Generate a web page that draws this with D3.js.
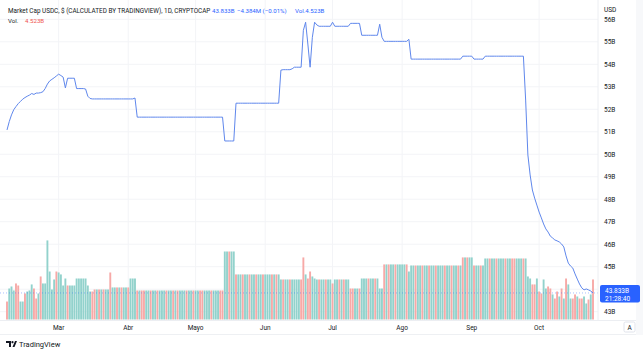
<!DOCTYPE html>
<html>
<head>
<meta charset="utf-8">
<script src="https://cdn.jsdelivr.net/npm/d3@7"></script>
<style>
  body { margin: 0; background: #fff; }
  svg { display: block; font-family: Roboto, "Open Sans", sans-serif; }
  .lbl { fill: #131722; font-size: 6.5px; }
  .hdr { font-size: 6.1px; }
  .ttl { font-size: 6.35px; }
</style>
</head>
<body>
<svg id="main" width="643" height="354"></svg>
<script>
// daily closes, market cap in billions USD, from 2022-02-06
const price = [
  51.08, 51.45, 51.75, 51.98, 52.12, 52.25, 52.35, 52.45, 52.52, 52.58,
  52.63, 52.70, 52.66, 52.72, 52.72, 52.74, 52.78, 52.92, 53.12, 53.26,
  53.33, 53.40, 53.48, 53.56, 53.50, 53.43, 52.95, 53.38, 53.38, 53.38,
  53.38, 52.92, 52.92, 52.92, 52.92, 52.90, 52.58, 52.48, 52.46, 52.46,
  52.46, 52.46, 52.46, 52.46, 52.46, 52.46, 52.46, 52.46, 52.46, 52.46,
  52.46, 52.46, 52.46, 52.46, 52.46, 52.46, 52.46, 52.50, 51.65, 51.65,
  51.65, 51.65, 51.65, 51.65, 51.65, 51.65, 51.65, 51.65, 51.65, 51.65,
  51.65, 51.65, 51.65, 51.65, 51.65, 51.65, 51.65, 51.65, 51.65, 51.65,
  51.65, 51.65, 51.65, 51.65, 51.65, 51.65, 51.65, 51.65, 51.65, 51.65,
  51.65, 51.65, 51.65, 51.65, 51.65, 51.65, 51.65, 50.59, 50.59, 50.59,
  50.59, 50.59, 52.27, 52.27, 52.27, 52.27, 52.27, 52.27, 52.27, 52.27,
  52.27, 52.27, 52.27, 52.27, 52.27, 52.27, 52.27, 52.27, 52.27, 52.27,
  52.27, 52.27, 53.74, 53.76, 53.76, 53.76, 53.76, 53.80, 53.87, 53.87,
  53.87, 53.87, 55.51, 55.87, 54.90, 53.87, 55.20, 55.87, 55.75, 55.69,
  55.69, 55.69, 55.69, 55.69, 55.69, 55.87, 55.69, 55.69, 55.69, 55.69,
  55.69, 55.69, 55.69, 55.82, 55.82, 55.82, 55.82, 55.82, 55.29, 55.29,
  55.29, 55.29, 55.29, 55.29, 55.29, 55.29, 55.78, 55.20, 55.02, 55.02,
  55.02, 55.02, 55.02, 55.02, 55.02, 55.02, 55.02, 55.02, 55.02, 55.11,
  54.23, 54.23, 54.23, 54.23, 54.23, 54.23, 54.23, 54.23, 54.23, 54.23,
  54.23, 54.23, 54.23, 54.23, 54.23, 54.23, 54.23, 54.23, 54.23, 54.23,
  54.23, 54.23, 54.23, 54.36, 54.36, 54.36, 54.36, 54.36, 54.23, 54.23,
  54.23, 54.23, 54.23, 54.36, 54.36, 54.36, 54.36, 54.36, 54.36, 54.36,
  54.36, 54.36, 54.36, 54.36, 54.36, 54.36, 54.36, 54.36, 54.36, 54.36,
  54.36, 52.41, 49.97, 49.08, 48.41, 48.05, 47.74, 47.43, 47.17, 46.90,
  46.68, 46.54, 46.36, 46.28, 46.19, 46.15, 46.10, 46.01, 45.88, 45.48,
  45.16, 45.03, 44.94, 44.68, 44.45, 44.23, 44.06, 43.97, 44.01, 43.97,
  43.92, 43.833
];

// daily volume, billions
const volume = [
  2.03, 3.50, 3.73, 3.28, 4.07, 3.84, 2.03, 2.03, 2.94, 3.16,
  3.28, 3.96, 3.50, 2.37, 2.94, 4.86, 4.07, 4.07, 8.93, 5.42,
  3.39, 4.52, 5.42, 5.31, 5.09, 3.84, 4.63, 3.84, 3.84, 3.84,
  3.84, 4.63, 4.63, 4.63, 4.63, 4.63, 3.84, 3.16, 3.16, 3.39,
  3.39, 3.39, 3.39, 3.39, 3.39, 3.39, 5.31, 3.62, 3.62, 3.62,
  3.62, 3.62, 3.62, 3.62, 3.62, 4.63, 4.63, 4.63, 3.28, 3.28,
  3.28, 3.28, 3.28, 3.28, 3.28, 3.28, 3.28, 3.28, 3.28, 3.28,
  3.28, 3.28, 3.28, 3.28, 3.28, 3.28, 3.28, 3.28, 3.28, 3.28,
  3.28, 3.28, 3.28, 3.28, 3.28, 3.28, 3.28, 3.28, 3.28, 3.28,
  3.28, 3.28, 3.28, 3.28, 3.28, 3.28, 3.28, 7.68, 7.68, 7.68,
  7.68, 7.68, 5.09, 5.09, 5.09, 5.09, 5.09, 5.09, 5.09, 5.09,
  5.09, 5.09, 5.09, 5.09, 5.09, 5.09, 5.09, 5.09, 5.09, 5.09,
  5.09, 5.09, 4.52, 4.52, 4.52, 4.52, 4.52, 4.52, 4.52, 4.52,
  4.52, 4.52, 7.01, 5.09, 4.63, 5.42, 4.86, 4.63, 4.52, 4.52,
  4.52, 4.52, 4.52, 4.52, 4.52, 4.07, 4.52, 4.52, 4.52, 4.52,
  4.52, 4.52, 4.52, 3.50, 3.50, 3.50, 3.50, 3.50, 4.63, 4.63,
  4.63, 4.63, 4.63, 4.63, 4.63, 4.63, 3.50, 3.50, 6.22, 6.22,
  6.22, 6.22, 6.22, 6.22, 6.22, 6.22, 6.22, 6.22, 6.22, 5.42,
  6.10, 6.10, 6.10, 6.10, 6.10, 6.10, 6.10, 6.10, 6.10, 6.10,
  6.10, 6.10, 6.10, 6.10, 6.10, 6.10, 6.10, 6.10, 6.10, 6.10,
  6.10, 6.10, 6.10, 7.01, 7.01, 7.01, 7.01, 7.01, 6.10, 6.10,
  6.10, 6.10, 6.10, 6.89, 6.89, 6.89, 6.89, 6.89, 6.89, 6.89,
  6.89, 6.89, 6.89, 6.89, 6.89, 6.89, 6.89, 6.89, 6.89, 6.89,
  6.89, 6.89, 4.86, 4.63, 3.96, 3.96, 4.63, 3.16, 2.94, 4.52,
  3.50, 3.73, 3.50, 2.83, 2.37, 3.16, 2.60, 3.50, 2.37, 4.63,
  3.96, 2.37, 2.37, 2.83, 2.60, 2.37, 2.37, 2.60, 1.81, 2.26,
  2.83, 4.523
];

// u = up day (green volume), d = down day (red volume)
const direction = [
  'duuudduudu', 'uudduduuuu', 'uuduuuuduu', 'uuuuuuuudd', 'ududuuduud',
  'uduuduuudu', 'dduuduuduu', 'uduududuuu', 'duuduudduu', 'uduuudduud',
  'uuduuduudu', 'uduuduuudu', 'duuduuduuu', 'uddudduuud', 'uuduuduudu',
  'duudduuduu', 'uduuduuudu', 'duuduuuudu', 'uuduuduudu', 'uduuuduudu',
  'udududuudu', 'uduuuduudu', 'uuduudduuu', 'duuudduddu', 'udduddudud',
  'uuddudduud', 'ud'
].join('');

const months = ['Mar', 'Abr', 'Mayo', 'Jun', 'Jul', 'Ago', 'Sep', 'Oct'];
const priceTicks = [56, 55, 54, 53, 52, 51, 50, 49, 48, 47, 46, 45, 44, 43];

const start = new Date(2022, 1, 6);
const days = price.map((p, i) => d3.timeDay.offset(start, i));

const svg = d3.select('svg#main');
const plotRight = 598;

const xScale = d3.scaleTime()
  .domain([days[0], days[days.length - 1]])
  .range([7, 593]);
const step = xScale(days[1]) - xScale(days[0]);

const yScale = d3.scaleLinear().domain([43, 56]).range([311.7, 19.3]);
const yVol = d3.scaleLinear().domain([0, 9]).range([319.5, 239.8]);

const last = price[price.length - 1];

// faint grid
const monthDates = months.map((m, i) => new Date(2022, 2 + i, 1));
svg.append('g')
  .selectAll('line')
  .data(monthDates)
  .join('line')
  .attr('x1', d => xScale(d)).attr('x2', d => xScale(d))
  .attr('y1', 0).attr('y2', 320)
  .attr('stroke', '#f3f4f7');

svg.append('g')
  .selectAll('line')
  .data(priceTicks)
  .join('line')
  .attr('x1', 0).attr('x2', plotRight)
  .attr('y1', d => yScale(d)).attr('y2', d => yScale(d))
  .attr('stroke', '#f3f4f7');

// volume bars
svg.append('g')
  .selectAll('rect')
  .data(volume)
  .join('rect')
  .attr('x', (v, i) => xScale(days[i]) - step * 0.42)
  .attr('y', v => yVol(v))
  .attr('width', step * 0.84)
  .attr('height', v => yVol(0) - yVol(v))
  .attr('fill', (v, i) => direction[i] === 'd' ? '#f7a9a7' : '#92d2cc');

// last price dotted line
svg.append('line')
  .attr('x1', 0).attr('x2', plotRight)
  .attr('y1', yScale(last)).attr('y2', yScale(last))
  .attr('stroke', '#2962ff')
  .attr('stroke-opacity', 0.4)
  .attr('stroke-dasharray', '1,2');

// price line
const line = d3.line()
  .x((p, i) => xScale(days[i]))
  .y(p => yScale(p));

svg.append('path')
  .datum(price)
  .attr('d', line)
  .attr('fill', 'none')
  .attr('stroke', '#5f87ec')
  .attr('stroke-width', 1);

// borders
svg.append('line')
  .attr('x1', plotRight).attr('x2', plotRight)
  .attr('y1', 0).attr('y2', 321)
  .attr('stroke', '#eceef2');
svg.append('line')
  .attr('x1', 0).attr('x2', 643)
  .attr('y1', 320.5).attr('y2', 320.5)
  .attr('stroke', '#eceef2');
svg.append('rect')
  .attr('x', 636).attr('y', 0)
  .attr('width', 7).attr('height', 335)
  .attr('fill', '#f7f8fa');

// price axis (the 44B label sits under the last value tag)
svg.append('text')
  .attr('class', 'lbl')
  .attr('x', 604).attr('y', 12)
  .text('USD');

svg.append('g')
  .selectAll('text')
  .data(priceTicks.filter(d => Math.abs(yScale(d) - yScale(last)) > 12))
  .join('text')
  .attr('class', 'lbl')
  .attr('x', 604)
  .attr('y', d => yScale(d) + 2.3)
  .text(d => `${d}B`);

// last value tag
svg.append('rect')
  .attr('x', 600).attr('y', 285)
  .attr('width', 40).attr('height', 17.5)
  .attr('rx', 2)
  .attr('fill', '#2962ff');
svg.append('text')
  .attr('x', 605).attr('y', 292.5)
  .attr('fill', '#fff').attr('font-size', '6.5px')
  .text(`${last.toFixed(3)}B`);
svg.append('text')
  .attr('x', 605).attr('y', 300.5)
  .attr('fill', '#fff').attr('font-size', '6.5px')
  .text('21:28:40');

// time axis
svg.append('g')
  .selectAll('text')
  .data(monthDates)
  .join('text')
  .attr('class', 'lbl')
  .attr('x', d => xScale(d))
  .attr('y', 330)
  .attr('text-anchor', 'middle')
  .text((d, i) => months[i]);

svg.append('line')
  .attr('x1', 0).attr('x2', 636)
  .attr('y1', 334.5).attr('y2', 334.5)
  .attr('stroke', '#eef0f3');

// auto scale button
svg.append('rect')
  .attr('x', 624).attr('y', 322)
  .attr('width', 11).attr('height', 10)
  .attr('rx', 1.5)
  .attr('fill', '#fff')
  .attr('stroke', '#e0e3eb');
svg.append('text')
  .attr('class', 'lbl')
  .attr('x', 629.5).attr('y', 329.5)
  .attr('text-anchor', 'middle')
  .text('A');

// legend
svg.append('text')
  .attr('class', 'lbl ttl')
  .attr('x', 8).attr('y', 13)
  .text('Market Cap USDC, $ (CALCULATED BY TRADINGVIEW), 1D, CRYPTOCAP');
svg.append('text')
  .attr('class', 'hdr')
  .attr('x', 212).attr('y', 13)
  .attr('fill', '#2962ff')
  .text('43.833B');
svg.append('text')
  .attr('class', 'hdr')
  .attr('x', 237).attr('y', 13)
  .attr('fill', '#2962ff')
  .text('\u22124.384M (\u22120.01%)');
svg.append('text')
  .attr('class', 'hdr')
  .attr('x', 295).attr('y', 13)
  .attr('fill', '#2962ff')
  .text('Vol.4.523B');

svg.append('text')
  .attr('class', 'lbl hdr')
  .attr('x', 8).attr('y', 22.5)
  .text('Vol.');
svg.append('text')
  .attr('class', 'hdr')
  .attr('x', 25).attr('y', 22.5)
  .attr('fill', '#ef5350')
  .text('4.523B');

// TradingView mark
const logo = svg.append('g').attr('transform', 'translate(6, 341)');
logo.append('path')
  .attr('d', 'M0,0 H5 V6 H3 V2 H0 Z M6.5,0 A1.1,1.1 0 1 1 6.49,0 M9,0 H11 L8.5,6 H6.5 Z')
  .attr('fill', '#131722');
svg.append('text')
  .attr('x', 19).attr('y', 347)
  .attr('fill', '#131722').attr('font-size', '7.5px')
  .text('TradingView');
</script>
</body>
</html>
